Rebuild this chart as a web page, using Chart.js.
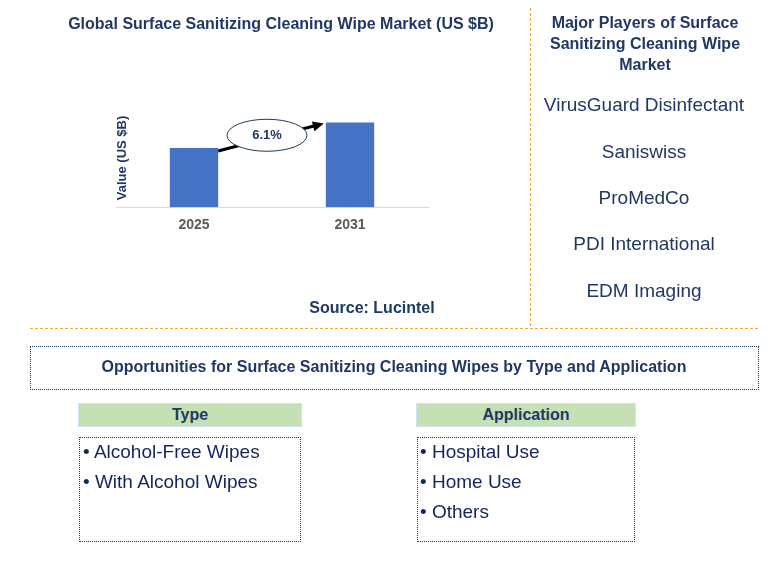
<!DOCTYPE html><html><head><meta charset="utf-8">
<script src="https://cdn.jsdelivr.net/npm/chart.js@4"></script>
<style>
body{margin:0;width:784px;height:582px;position:relative;font-family:Arial,"Liberation Sans",sans-serif;overflow:hidden;background:#fff}
.a{position:absolute;white-space:nowrap}
.n{color:#1f3864;font-weight:bold;font-size:16px}
.c{transform:translateX(-50%);text-align:center}
.co{font-size:19px;color:#1f3864}
.db{position:absolute;border:1px dotted #1f3864;box-sizing:border-box}
.hd{position:absolute;background:#c5e0b4;border:1px solid #cfe2f3;box-sizing:border-box;font-weight:bold;font-size:16px;color:#1f3864;text-align:center;line-height:21px}
.it{font-size:19px;color:#13255e}
</style></head><body>
<canvas id="c" width="784" height="582" style="position:absolute;left:0;top:0"></canvas>
<div class="a n c" style="left:281px;top:15px">Global Surface Sanitizing Cleaning Wipe Market (US $B)</div>
<div class="a n c" style="left:372px;top:299px">Source: Lucintel</div>
<div class="a" style="left:530px;top:8px;height:318px;border-left:1px dashed #f0a830"></div>
<div class="a" style="left:30px;top:328px;width:728px;border-top:1px dashed #f0a830"></div>
<div class="a n c" style="left:645px;top:12px;line-height:21px">Major Players of Surface<br>Sanitizing Cleaning Wipe<br>Market</div>
<div class="a co c" style="left:644px;top:94px">VirusGuard Disinfectant</div>
<div class="a co c" style="left:644px;top:141px">Saniswiss</div>
<div class="a co c" style="left:644px;top:187px">ProMedCo</div>
<div class="a co c" style="left:644px;top:233px">PDI International</div>
<div class="a co c" style="left:644px;top:280px">EDM Imaging</div>
<div class="db" style="left:30px;top:346px;width:729px;height:44px"></div>
<div class="a n c" style="left:394px;top:358px">Opportunities for Surface Sanitizing Cleaning Wipes by Type and Application</div>
<div class="hd" style="left:78px;top:403px;width:224px;height:24px">Type</div>
<div class="db" style="left:79px;top:437px;width:222px;height:105px"></div>
<div class="a it" style="left:83px;top:437px;line-height:30px">• Alcohol-Free Wipes<br>• With Alcohol Wipes</div>
<div class="hd" style="left:416px;top:403px;width:220px;height:24px">Application</div>
<div class="db" style="left:417px;top:437px;width:218px;height:105px"></div>
<div class="a it" style="left:420px;top:437px;line-height:30px">• Hospital Use<br>• Home Use<br>• Others</div>
<script>
const categories=["2025","2031"];
const values=[2.1,3.0];
const cagrLabel="6.1%";
const yTitle="Value (US $B)";
const deco={id:'deco',afterDatasetsDraw(ch){
 const c=ch.ctx,m=ch.getDatasetMeta(0).data;
 c.save();
 c.translate(122,158);c.rotate(-Math.PI/2);c.font="bold 13px Arial";c.fillStyle="#1f3864";c.textAlign="center";c.textBaseline="middle";c.fillText(yTitle,0,0);c.restore();
 const b0=m[0],b1=m[1];
 const x0=b0.x+b0.width/2,y0=b0.y+3,x1=b1.x-b1.width/2-2,y1=b1.y+1;
 c.save();c.strokeStyle="#000";c.lineWidth=3;c.beginPath();c.moveTo(x0,y0);c.lineTo(x1-8,y1+2);c.stroke();
 const ang=Math.atan2(y1-y0,x1-x0);c.fillStyle="#000";c.beginPath();c.moveTo(x1,y1);
 c.lineTo(x1-11*Math.cos(ang)+5*Math.sin(ang),y1-11*Math.sin(ang)-5*Math.cos(ang));
 c.lineTo(x1-11*Math.cos(ang)-5*Math.sin(ang),y1-11*Math.sin(ang)+5*Math.cos(ang));c.fill();
 const cx=(b0.x+b1.x)/2-5,cy=(y0+y1)/2-2;
 c.beginPath();c.ellipse(cx,cy,40,16,0,0,Math.PI*2);c.fillStyle="#fff";c.fill();c.strokeStyle="#1f3864";c.lineWidth=1;c.stroke();
 c.fillStyle="#1f3864";c.font="bold 13px Arial";c.textAlign="center";c.textBaseline="middle";c.fillText(cagrLabel,cx,cy);c.restore();}};
new Chart(document.getElementById('c'),{type:'bar',data:{labels:categories,datasets:[{data:values,backgroundColor:"#4472c4",categoryPercentage:1,barPercentage:0.31}]},
options:{responsive:false,animation:false,layout:{padding:{left:116,right:356,top:100,bottom:346}},
plugins:{legend:{display:false},tooltip:{enabled:false}},
scales:{y:{display:false,min:0,max:3.8},x:{grid:{display:false},border:{color:"#d9d9d9"},ticks:{color:"#595959",font:{family:"Arial",size:14,weight:"bold"},padding:2}}}},plugins:[deco]});
</script></body></html>
